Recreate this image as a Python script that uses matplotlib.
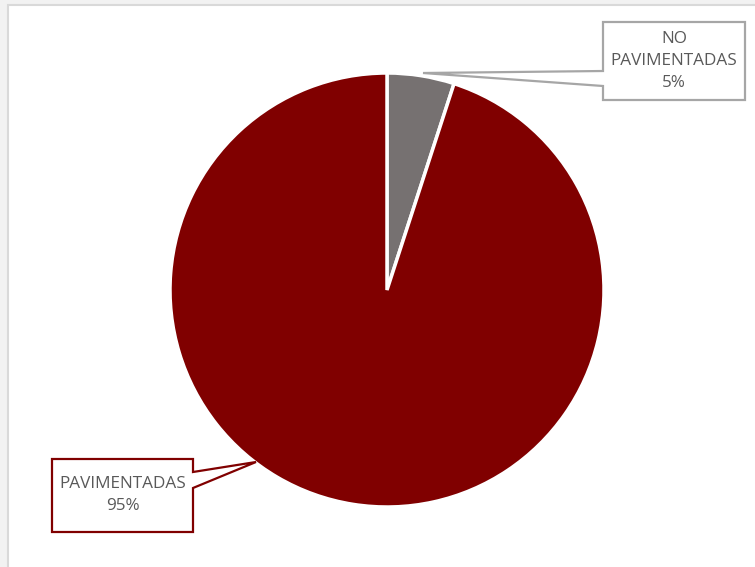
import matplotlib
matplotlib.use('Agg')
import matplotlib.pyplot as plt
from matplotlib.patches import Polygon, Rectangle

labels = ['PAVIMENTADAS', 'NO PAVIMENTADAS']
values = [95, 5]
colors = ['#800000', '#767171']
label_text = ['PAVIMENTADAS', 'NO\nPAVIMENTADAS']

W, H = 755, 567
fig = plt.figure(figsize=(W / 100, H / 100), dpi=100, facecolor='#f2f2f2')
ax = fig.add_axes([0, 0, 1, 1])

# chart area
ax.add_patch(Rectangle((8, -10), 760, H - 5 + 10, facecolor='white',
                       edgecolor='#d9d9d9', lw=1.5, zorder=0))

# pie: 5% slice starts at the top and runs clockwise
ax.pie(values[::-1], colors=colors[::-1], startangle=90, counterclock=False,
       center=(387, H - 290), radius=217,
       wedgeprops=dict(edgecolor='white', linewidth=2.5))

# callouts (box + pointer), pixel coordinates measured from the top
def callout(box, notch, tip, edge, text):
    x0, y0, x1, y1 = box
    if notch[0] == 'left':
        pts = [(x0, y0), (x1, y0), (x1, y1), (x0, y1),
               (x0, notch[2]), tip, (x0, notch[1])]
    else:
        pts = [(x0, y0), (x1, y0), (x1, notch[1]), tip, (x1, notch[2]),
               (x1, y1), (x0, y1)]
    pts = [(x, H - y) for x, y in pts]
    ax.add_patch(Polygon(pts, closed=True, facecolor='white', edgecolor=edge,
                         lw=1.6, zorder=5))
    ax.text((x0 + x1) / 2, H - (y0 + y1) / 2, text, ha='center', va='center',
            fontsize=12.3, color='#595959', family='Open Sans',
            linespacing=1.5, zorder=6)

callout((603, 22, 745, 100), ('left', 71, 86), (423, 73), '#a6a6a6',
        '%s\n%d%%' % (label_text[1], values[1]))
callout((52, 459, 193, 532), ('right', 472, 488), (256, 462), '#800000',
        '%s\n%d%%' % (label_text[0], values[0]))

ax.set_xlim(0, W)
ax.set_ylim(0, H)
ax.set_aspect('auto')
ax.axis('off')

fig.savefig('out.png', dpi=100, facecolor=fig.get_facecolor())
